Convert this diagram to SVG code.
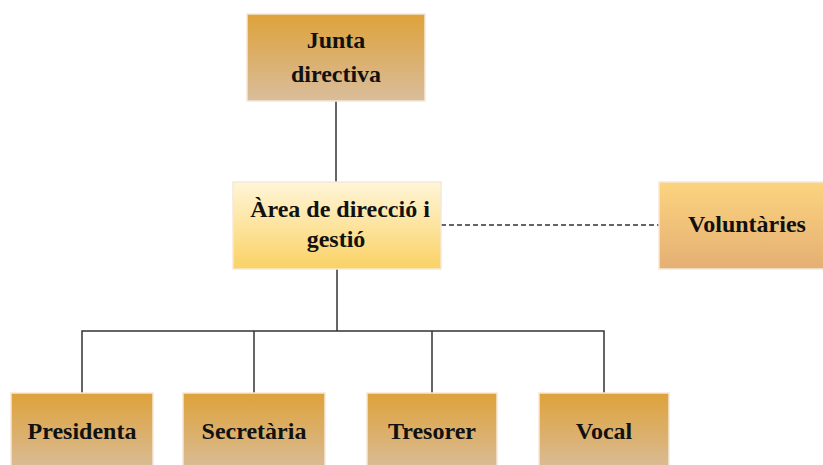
<svg xmlns="http://www.w3.org/2000/svg" width="823" height="465" viewBox="0 0 823 465">
<defs>
<linearGradient id="gDark" x1="0" y1="0" x2="0" y2="1"><stop offset="0" stop-color="#DEA23A"/><stop offset="1" stop-color="#D9BD9C"/></linearGradient>
<linearGradient id="gLight" x1="0" y1="0" x2="0" y2="1"><stop offset="0" stop-color="#FFF5D8"/><stop offset="1" stop-color="#FAD264"/></linearGradient>
<linearGradient id="gMid" x1="0" y1="0" x2="0" y2="1"><stop offset="0" stop-color="#FCD47F"/><stop offset="1" stop-color="#E4AF74"/></linearGradient>
<style>
.box{stroke:#F6E8D6;stroke-width:1.5}
.t{font-family:"Liberation Serif","Times New Roman",serif;font-weight:bold;font-size:24px;fill:#111;text-anchor:middle}
.ln{stroke:#333;stroke-width:1.5;fill:none}
</style>
</defs>
<g id="connectors">
<line class="ln" x1="336" y1="101" x2="336" y2="182"/>
<line class="ln" x1="337" y1="269" x2="337" y2="331" stroke-width="3" stroke="#111"/>
<polyline class="ln" points="82,393 82,331 604,331 604,393"/>
<line class="ln" x1="254" y1="331" x2="254" y2="393"/>
<line class="ln" x1="432" y1="331" x2="432" y2="393"/>
<line class="ln" x1="441" y1="225" x2="659" y2="225" stroke-dasharray="5,3"/>
</g>
<g id="junta"><rect class="box" x="247" y="14" width="178" height="87" fill="url(#gDark)"/><text class="t" x="336" y="48">Junta</text><text class="t" x="336" y="82">directiva</text></g>
<g id="area"><rect class="box" x="233" y="182" width="208" height="87" fill="url(#gLight)"/><text class="t" x="340" y="217">Àrea de direcció i</text><text class="t" x="336" y="247">gestió</text></g>
<g id="voluntaries"><rect class="box" x="659" y="182" width="166" height="87" fill="url(#gMid)"/><text class="t" x="747" y="232">Voluntàries</text></g>
<g id="presidenta"><rect class="box" x="11" y="393" width="142" height="80" fill="url(#gDark)"/><text class="t" x="82" y="439">Presidenta</text></g>
<g id="secretaria"><rect class="box" x="183" y="393" width="142" height="80" fill="url(#gDark)"/><text class="t" x="254" y="439">Secretària</text></g>
<g id="tresorer"><rect class="box" x="367" y="393" width="130" height="80" fill="url(#gDark)"/><text class="t" x="432" y="439">Tresorer</text></g>
<g id="vocal"><rect class="box" x="539" y="393" width="130" height="80" fill="url(#gDark)"/><text class="t" x="604" y="439">Vocal</text></g>
</svg>
